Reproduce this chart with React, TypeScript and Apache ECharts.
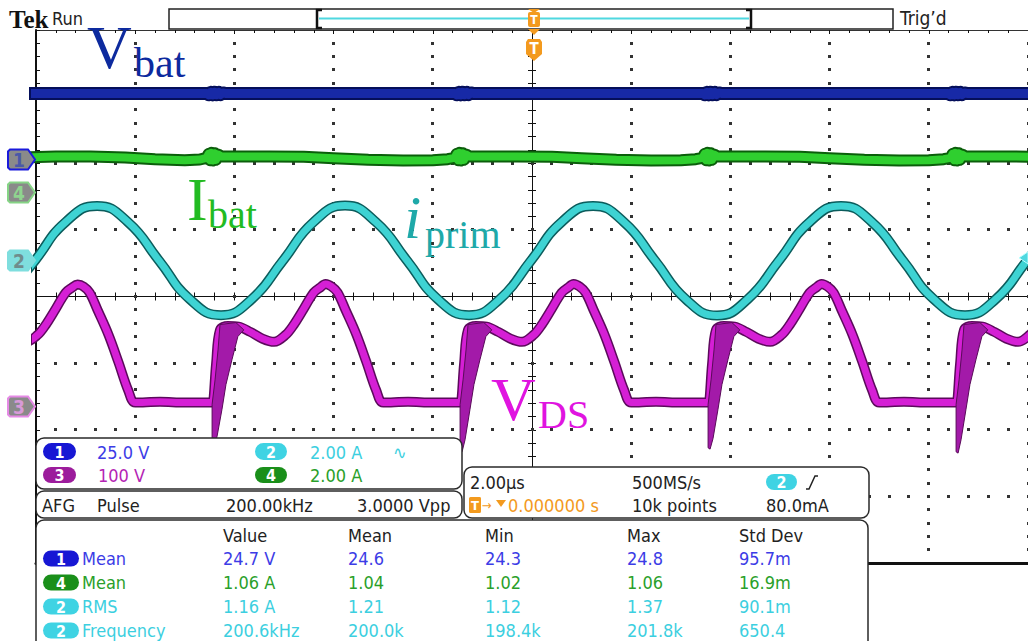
import React, { useEffect, useRef } from "react";
import * as echarts from "echarts";

// ---- Scope settings ----
const TIME_PER_DIV = 2; // µs / div
const X_MIN = -10; // µs, trigger at centre
const X_MAX = 10;
const Y_MIN = -4; // divisions
const Y_MAX = 4;
const MINOR_PER_DIV = 5;

const CH1_SCALE = 25; // V/div   (Vbat)
const CH2_SCALE = 2; // A/div    (iprim)
const CH3_SCALE = 100; // V/div  (VDS)
const CH4_SCALE = 2; // A/div    (Ibat)
const CH1_POS = 2.056; // trace zero position, divisions
const CH2_POS = 0.54;
const CH3_POS = -1.651;
const CH4_POS = 1.561;
const TRIG_LEVEL = 0.08; // A on ch2

// ---- Waveforms: [time µs, value] ----
const vbatPoints: number[][] = [
  [-10.3, 24.76], [-9.5, 24.74], [-9.0, 24.78], [-8.5, 24.75], [-8.0, 24.73], [-7.5, 24.77], [-7.0, 24.75], [-6.56, 24.76],
  [-6.52, 24.3], [-6.48, 25.2], [-6.44, 24.25], [-6.4, 25.25], [-6.36, 24.3], [-6.32, 25.2], [-6.28, 24.4], [-6.23, 25.0], [-6.16, 24.75],
  [-5.6, 24.77], [-5.0, 24.74], [-4.5, 24.76], [-4.0, 24.75], [-3.5, 24.78], [-3.0, 24.74], [-2.5, 24.76], [-2.0, 24.75], [-1.56, 24.76],
  [-1.52, 24.3], [-1.48, 25.2], [-1.44, 24.25], [-1.4, 25.25], [-1.36, 24.3], [-1.32, 25.2], [-1.28, 24.4], [-1.23, 25.0], [-1.16, 24.75],
  [-0.6, 24.76], [0.0, 24.74], [0.5, 24.77], [1.0, 24.75], [1.5, 24.76], [2.0, 24.74], [2.5, 24.77], [3.0, 24.75], [3.44, 24.76],
  [3.48, 24.3], [3.52, 25.2], [3.56, 24.25], [3.6, 25.25], [3.64, 24.3], [3.68, 25.2], [3.72, 24.4], [3.77, 25.0], [3.84, 24.75],
  [4.4, 24.77], [5.0, 24.74], [5.5, 24.76], [6.0, 24.75], [6.5, 24.78], [7.0, 24.74], [7.5, 24.76], [8.0, 24.75], [8.39, 24.76],
  [8.43, 24.3], [8.47, 25.2], [8.51, 24.25], [8.55, 25.25], [8.59, 24.3], [8.63, 25.2], [8.67, 24.4], [8.72, 25.0], [8.79, 24.75],
  [9.4, 24.76], [10.3, 24.75],
];

const ibatPoints: number[][] = [
  [-10.3, 1.05], [-9.6, 1.08], [-8.9, 1.08], [-8.2, 1.05], [-7.6, 1.0], [-7.0, 0.97], [-6.7, 0.99], [-6.56, 1.04],
  [-6.52, 1.16], [-6.49, 0.97], [-6.46, 1.19], [-6.43, 0.96], [-6.4, 1.18], [-6.37, 0.98], [-6.33, 1.14], [-6.26, 1.08],
  [-5.3, 1.08], [-4.6, 1.07], [-4.0, 1.03], [-3.3, 0.98], [-2.6, 0.96], [-2.0, 0.97], [-1.7, 1.0], [-1.56, 1.04],
  [-1.52, 1.16], [-1.49, 0.97], [-1.46, 1.19], [-1.43, 0.96], [-1.4, 1.18], [-1.37, 0.98], [-1.33, 1.14], [-1.26, 1.08],
  [-0.3, 1.08], [0.4, 1.07], [1.0, 1.03], [1.7, 0.98], [2.4, 0.96], [3.0, 0.97], [3.3, 1.0], [3.44, 1.04],
  [3.48, 1.16], [3.51, 0.97], [3.54, 1.19], [3.57, 0.96], [3.6, 1.18], [3.63, 0.98], [3.67, 1.14], [3.74, 1.08],
  [4.7, 1.08], [5.4, 1.07], [6.0, 1.03], [6.7, 0.98], [7.4, 0.96], [8.0, 0.97], [8.3, 1.0], [8.44, 1.04],
  [8.48, 1.16], [8.51, 0.97], [8.54, 1.19], [8.57, 0.96], [8.6, 1.18], [8.63, 0.98], [8.67, 1.14], [8.74, 1.08],
  [9.6, 1.08], [10.3, 1.07],
];

const iprimPoints: number[][] = [
  [-10.64, -1.16], [-10.02, 0], [-9.4, 1.16], [-8.77, 1.64], [-8.15, 1.16], [-7.52, 0], [-6.9, -1.16], [-6.27, -1.64],
  [-5.65, -1.16], [-5.02, 0], [-4.4, 1.16], [-3.77, 1.65], [-3.15, 1.16], [-2.52, 0], [-1.9, -1.16], [-1.27, -1.64],
  [-0.65, -1.16], [-0.02, 0], [0.6, 1.16], [1.23, 1.64], [1.85, 1.16], [2.48, 0], [3.1, -1.16], [3.73, -1.65],
  [4.35, -1.16], [4.98, 0], [5.6, 1.16], [6.23, 1.64], [6.85, 1.16], [7.48, 0], [8.1, -1.16], [8.73, -1.64],
  [9.35, -1.16], [9.98, 0], [10.6, 1.16],
];

const vdsPoints: number[][] = [
  [-10.44, 102], [-10.2, 97], [-9.96, 108], [-9.8, 123], [-9.64, 142], [-9.4, 171], [-9.28, 178], [-9.16, 183],
  [-9.04, 180], [-8.92, 171], [-8.76, 145], [-8.54, 108], [-8.34, 67], [-8.14, 24], [-8.0, 6], [-7.5, 7], [-7.0, 6], [-6.46, 6],
  [-6.44, 6], [-6.37, 63], [-6.29, 115], [-6.13, 121], [-5.92, 120], [-5.68, 112], [-5.44, 102], [-5.2, 97],
  [-4.96, 108], [-4.8, 123], [-4.64, 142], [-4.4, 171], [-4.28, 178], [-4.16, 184], [-4.04, 180], [-3.92, 171],
  [-3.76, 145], [-3.54, 108], [-3.34, 67], [-3.14, 24], [-3.0, 6], [-2.5, 7], [-2.0, 6], [-1.46, 6],
  [-1.44, 6], [-1.37, 63], [-1.29, 115], [-1.13, 121], [-0.92, 120], [-0.68, 112], [-0.44, 102], [-0.2, 97],
  [0.04, 108], [0.2, 123], [0.36, 142], [0.6, 171], [0.72, 178], [0.84, 184], [0.96, 180], [1.08, 171],
  [1.24, 145], [1.46, 108], [1.66, 67], [1.86, 24], [2.0, 6], [2.5, 7], [3.0, 6], [3.54, 6],
  [3.56, 6], [3.63, 63], [3.71, 115], [3.87, 121], [4.08, 120], [4.32, 112], [4.56, 102], [4.8, 97],
  [5.04, 108], [5.2, 123], [5.36, 142], [5.6, 171], [5.72, 178], [5.84, 184], [5.96, 180], [6.08, 171],
  [6.24, 145], [6.46, 108], [6.66, 67], [6.86, 24], [7.0, 6], [7.5, 7], [8.0, 6], [8.54, 6],
  [8.56, 6], [8.63, 63], [8.71, 115], [8.87, 121], [9.08, 120], [9.32, 112], [9.56, 102], [9.8, 97],
  [10.04, 108], [10.2, 123],
];

// turn-off ringing envelopes of VDS (persisted sweeps), [time µs, V]
const vdsRinging1: number[][] = [
  [-6.45, -58], [-6.45, 3], [-6.39, 40], [-6.33, 85], [-6.29, 123], [-5.97, 126], [-5.81, 115],
  [-5.93, 105], [-6.05, 70], [-6.17, 33], [-6.25, -4], [-6.35, -45], [-6.41, -61],
];
const vdsRinging2: number[][] = [
  [-1.45, -66], [-1.45, 3], [-1.39, 40], [-1.33, 85], [-1.29, 123], [-0.97, 126], [-0.81, 115],
  [-0.93, 105], [-1.05, 70], [-1.17, 33], [-1.25, -4], [-1.35, -50], [-1.41, -68],
];
const vdsRinging3: number[][] = [
  [3.55, -62], [3.55, 3], [3.61, 40], [3.67, 85], [3.71, 123], [4.03, 126], [4.19, 115],
  [4.07, 105], [3.95, 70], [3.83, 33], [3.75, -4], [3.65, -48], [3.59, -64],
];
const vdsRinging4: number[][] = [
  [8.55, -68], [8.55, 3], [8.61, 40], [8.67, 85], [8.71, 123], [9.03, 126], [9.19, 115],
  [9.07, 105], [8.95, 70], [8.83, 33], [8.75, -4], [8.65, -50], [8.59, -70],
];
const vdsRinging = [vdsRinging1, vdsRinging2, vdsRinging3, vdsRinging4];

// ---- Readouts ----
const chScaleLabels = ["25.0 V", "2.00 A", "100 V", "2.00 A"];
const afgFields = ["AFG", "Pulse", "200.00kHz", "3.0000 Vpp"];
const timebaseRow1 = ["2.00µs", "500MS/s"];
const timebaseRow2 = ["0.000000 s", "10k points", "80.0mA"];
const measHeaders = ["Value", "Mean", "Min", "Max", "Std Dev"];
const measChannels = ["1", "4", "2", "2"];
const measNames = ["Mean", "Mean", "RMS", "Frequency"];
const measRow1 = ["24.7 V", "24.6", "24.3", "24.8", "95.7m"];
const measRow2 = ["1.06 A", "1.04", "1.02", "1.06", "16.9m"];
const measRow3 = ["1.16 A", "1.21", "1.12", "1.37", "90.1m"];
const measRow4 = ["200.6kHz", "200.0k", "198.4k", "201.8k", "650.4"];
const measRows = [measRow1, measRow2, measRow3, measRow4];

// ---- Styling ----
const SANS = '"DejaVu Sans Condensed", "Noto Sans", "DejaVu Sans", sans-serif';
const SERIF = '"Liberation Serif", "Times New Roman", serif';
const BLUE = "#3c3ce6";
const BLUE_PILL = "#1717d4";
const CYAN = "#3ccfe0";
const CYAN_PILL = "#3fd3e3";
const PURPLE = "#b424b4";
const PURPLE_PILL = "#9c1c9c";
const GREEN = "#2a9f2a";
const GREEN_PILL = "#1a8f1a";
const ORANGE = "#f39a1e";
const INK = "#222";
const DOT = "#333333";
const DOT_SIZE = 3;

const toDiv = (pts: number[][], scale: number, pos: number) => pts.map(([t, v]) => [t, v / scale + pos]);

function lineSeries(data: number[][], color: string, width: number, smooth: number | boolean, z: number) {
  return {
    type: "line",
    data,
    xAxisIndex: 0,
    yAxisIndex: 0,
    showSymbol: false,
    symbol: "none",
    smooth,
    clip: true,
    silent: true,
    z,
    lineStyle: { color, width, join: "round", cap: "butt" },
  };
}

function txt(t: string, x: number, y: number, fill: string, size = 18, family = SANS, extra: any = {}) {
  return {
    type: "text",
    x,
    y,
    z: 60,
    silent: true,
    style: { text: t, fill, fontSize: size, fontFamily: family, align: "left", verticalAlign: "middle", ...extra },
  };
}

function pill(x: number, y: number, w: number, h: number, fill: string, label: string) {
  return [
    { type: "rect", z: 60, silent: true, shape: { x, y, width: w, height: h, r: h / 2 }, style: { fill } },
    {
      type: "text",
      z: 61,
      silent: true,
      x: x + w / 2,
      y: y + h / 2 + 0.5,
      style: { text: label, fill: "#fff", fontSize: 16, fontFamily: SANS, fontWeight: "bold", align: "center", verticalAlign: "middle" },
    },
  ];
}

function panel(x: number, y: number, w: number, h: number) {
  return { type: "rect", z: 55, silent: true, shape: { x, y, width: w, height: h, r: 8 }, style: { fill: "#fff", stroke: "#2a2a2a", lineWidth: 1.5 } };
}

function marker(y: number, fill: string, stroke: string, label: string, labelColor: string) {
  return [
    {
      type: "polygon",
      z: 60,
      silent: true,
      shape: { points: [[10, y - 10], [28, y - 10], [35, y], [28, y + 10], [10, y + 10], [8, y + 8], [8, y - 8]] },
      style: { fill, stroke, lineWidth: 2 },
    },
    {
      type: "text",
      z: 61,
      silent: true,
      x: 19,
      y: y + 0.5,
      style: { text: label, fill: labelColor, fontSize: 19, fontFamily: SANS, fontWeight: "bold", align: "center", verticalAlign: "middle" },
    },
  ];
}

// Graticule dots along the major division lines (one dot per minor division)
function graticuleDots(toPx: (p: number[]) => number[]) {
  const out: any[] = [];
  const h = DOT_SIZE / 2;
  const dot = (p: number[]) =>
    out.push({ type: "rect", z: 1, silent: true, shape: { x: Math.round(p[0] - h), y: Math.round(p[1] - h), width: DOT_SIZE, height: DOT_SIZE }, style: { fill: DOT } });
  const nx = (X_MAX - X_MIN) / TIME_PER_DIV;
  for (let k = 1; k <= nx; k++) {
    const x = X_MIN + k * TIME_PER_DIV;
    if (x === 0) continue;
    for (let j = Y_MIN * MINOR_PER_DIV + 1; j < Y_MAX * MINOR_PER_DIV; j++) dot(toPx([x, j / MINOR_PER_DIV]));
  }
  for (let r = Y_MIN + 1; r < Y_MAX; r++) {
    if (r === 0) continue;
    for (let j = 1; j < nx * MINOR_PER_DIV; j++) dot(toPx([X_MIN + (j * TIME_PER_DIV) / MINOR_PER_DIV, r]));
  }
  return out;
}

function buildGraphics(yOf: (d: number) => number, toPx: (p: number[]) => number[]) {
  const g: any[] = [{ type: "group", z: 1, silent: true, children: graticuleDots(toPx) }];
  // Top bar
  g.push(txt("Tek", 9, 19, "#111", 25, SERIF, { fontWeight: "bold" }));
  g.push(txt("Run", 52, 18, INK, 18));
  g.push({ type: "rect", z: 58, silent: true, shape: { x: 169, y: 9, width: 724, height: 20 }, style: { fill: "#fff", stroke: INK, lineWidth: 1.5 } });
  g.push({ type: "polyline", z: 59, silent: true, shape: { points: [[322, 10], [317, 10], [317, 28], [322, 28]] }, style: { stroke: "#111", lineWidth: 2.5, fill: null } });
  g.push({ type: "polyline", z: 59, silent: true, shape: { points: [[746, 10], [751, 10], [751, 28], [746, 28]] }, style: { stroke: "#111", lineWidth: 2.5, fill: null } });
  g.push({ type: "line", z: 59, silent: true, shape: { x1: 319, y1: 18.5, x2: 749, y2: 18.5 }, style: { stroke: "#4fd8e0", lineWidth: 2 } });
  g.push({ type: "polygon", z: 60, silent: true, shape: { points: [[528, 9], [540, 9], [534, 13]] }, style: { fill: ORANGE } });
  g.push({ type: "rect", z: 60, silent: true, shape: { x: 528, y: 12, width: 12, height: 15, r: 2 }, style: { fill: ORANGE } });
  g.push({ type: "text", z: 61, silent: true, x: 534, y: 19.5, style: { text: "T", fill: "#fff", fontSize: 12, fontFamily: SANS, fontWeight: "bold", align: "center", verticalAlign: "middle" } });
  g.push({ type: "polygon", z: 60, silent: true, shape: { points: [[528, 29], [540, 29], [534, 35]] }, style: { fill: ORANGE } });
  g.push({ type: "polygon", z: 60, silent: true, shape: { points: [[526, 42], [528, 39], [540, 39], [542, 42], [542, 54], [534, 61], [526, 54]] }, style: { fill: ORANGE } });
  g.push({ type: "text", z: 61, silent: true, x: 534, y: 49, style: { text: "T", fill: "#fff", fontSize: 15, fontFamily: SANS, fontWeight: "bold", align: "center", verticalAlign: "middle" } });
  g.push(txt("Trig’d", 900, 18, INK, 19));

  // Channel markers on the left edge
  g.push(...marker(yOf(CH1_POS), "#8a8a8a", "#1a1adc", "1", "#4a58a8"));
  g.push(...marker(yOf(CH4_POS), "#8a8a8a", "#86d486", "4", "#8fd48f"));
  g.push(...marker(yOf(CH2_POS), "#7fdede", "#7fdede", "2", "#6f8c8c"));
  g.push(...marker(yOf(CH3_POS), "#8a8a8a", "#e58ae5", "3", "#d89ad8"));
  // Trigger level marker on the right edge
  const ty = yOf(CH2_POS + TRIG_LEVEL / CH2_SCALE);
  g.push({ type: "polygon", z: 60, silent: true, shape: { points: [[1019, ty], [1028, ty - 6], [1028, ty + 6]] }, style: { fill: "#4fd8e0", stroke: "#bff", lineWidth: 1 } });

  // Trace labels
  g.push(txt("V", 87, 47, "#0d2a9e", 62, SERIF));
  g.push(txt("bat", 134, 63, "#0d2a9e", 42, SERIF));
  g.push(txt("I", 187, 199, "#22bb22", 62, SERIF));
  g.push(txt("bat", 208, 214, "#22bb22", 40, SERIF));
  g.push(txt("i", 404, 217, "#1fa9a9", 62, SERIF, { fontStyle: "italic" }));
  g.push(txt("prim", 425, 234, "#1fa9a9", 40, SERIF));
  g.push(txt("V", 491, 399, "#e014e0", 62, SERIF));
  g.push(txt("DS", 538, 414, "#e014e0", 40, SERIF));

  // Panel 1: channel scales
  g.push(panel(36, 438, 426, 51));
  g.push(...pill(43, 443, 33, 17, BLUE_PILL, "1"));
  g.push(txt(chScaleLabels[0], 97, 452, BLUE));
  g.push(...pill(255, 443, 32, 17, CYAN_PILL, "2"));
  g.push(txt(chScaleLabels[1], 310, 452, CYAN));
  g.push(txt("∿", 393, 452, CYAN));
  g.push(...pill(43, 467, 33, 16, PURPLE_PILL, "3"));
  g.push(txt(chScaleLabels[2], 98, 475, PURPLE));
  g.push(...pill(255, 467, 32, 16, GREEN_PILL, "4"));
  g.push(txt(chScaleLabels[3], 310, 475, GREEN));

  // Panel 2: AFG
  g.push(panel(36, 491, 426, 27));
  const afgX = [42, 97, 226, 357];
  afgFields.forEach((f, i) => g.push(txt(f, afgX[i], 505, INK)));

  // Panel 3: timebase / trigger
  g.push(panel(464, 467, 405, 51));
  g.push(txt(timebaseRow1[0], 470, 482, INK));
  g.push(txt(timebaseRow1[1], 632, 482, INK));
  g.push(...pill(766, 474, 31, 16, CYAN_PILL, "2"));
  g.push({ type: "polyline", z: 60, silent: true, shape: { points: [[806, 489], [809, 489], [815, 476], [818, 476]] }, style: { stroke: INK, lineWidth: 1.5, fill: null } });
  g.push({ type: "rect", z: 60, silent: true, shape: { x: 469, y: 497, width: 12, height: 16, r: 1.5 }, style: { fill: ORANGE } });
  g.push({ type: "text", z: 61, silent: true, x: 475, y: 505.5, style: { text: "T", fill: "#fff", fontSize: 13, fontFamily: SANS, fontWeight: "bold", align: "center", verticalAlign: "middle" } });
  g.push(txt("→", 482, 505, ORANGE, 13));
  g.push({ type: "polygon", z: 60, silent: true, shape: { points: [[496, 500], [506, 500], [501, 507]] }, style: { fill: ORANGE } });
  g.push(txt(timebaseRow2[0], 508, 505, ORANGE));
  g.push(txt(timebaseRow2[1], 632, 505, INK));
  g.push(txt(timebaseRow2[2], 766, 505, INK));

  // Panel 4: measurements
  g.push(panel(36, 520, 832, 135));
  const colX = [223, 348, 485, 627, 739];
  measHeaders.forEach((h, i) => g.push(txt(h, colX[i], 535, INK)));
  const rowY = [558.5, 582.5, 606.5, 630.5];
  const rowColor = [BLUE, GREEN, CYAN, CYAN];
  const pillColor = [BLUE_PILL, GREEN_PILL, CYAN_PILL, CYAN_PILL];
  measRows.forEach((row, r) => {
    g.push(...pill(43, rowY[r] - 8, 36, 16, pillColor[r], measChannels[r]));
    g.push(txt(measNames[r], 82, rowY[r], rowColor[r]));
    row.forEach((v, i) => g.push(txt(v, colX[i], rowY[r], rowColor[r])));
  });
  return g;
}

function buildOption() {
  const axisBase = { type: "value", min: X_MIN, max: X_MAX, interval: TIME_PER_DIV, axisLabel: { show: false }, splitLine: { show: false } };
  const yBase = { type: "value", min: Y_MIN, max: Y_MAX, interval: 1, axisLabel: { show: false }, splitLine: { show: false } };
  const tickStyle = { color: "#111", width: 1 };
  return {
    animation: false,
    backgroundColor: "#fff",
    grid: { left: 36, top: 30, width: 996, height: 533, show: false },
    xAxis: [
      {
        ...axisBase,
        position: "bottom",
        axisLine: { show: true, onZero: true, lineStyle: { color: "#111", width: 1 } },
        axisTick: { show: true, inside: true, length: 4, lineStyle: tickStyle },
        minorTick: { show: true, splitNumber: MINOR_PER_DIV, length: 4, lineStyle: tickStyle },
      },
      {
        ...axisBase,
        position: "top",
        axisLine: { show: false, onZero: true },
        axisTick: { show: true, inside: true, length: 4, lineStyle: tickStyle },
        minorTick: { show: true, splitNumber: MINOR_PER_DIV, length: 4, lineStyle: tickStyle },
      },
      {
        ...axisBase,
        position: "top",
        axisLine: { show: true, onZero: false, lineStyle: { color: "#333", width: 1 } },
        axisTick: { show: true, inside: true, length: 4, lineStyle: tickStyle },
        minorTick: { show: true, splitNumber: MINOR_PER_DIV, length: 3, lineStyle: tickStyle },
      },
      {
        ...axisBase,
        position: "bottom",
        axisLine: { show: true, onZero: false, lineStyle: { color: "#111", width: 3 } },
        axisTick: { show: false },
      },
    ],
    yAxis: [
      {
        ...yBase,
        position: "left",
        axisLine: { show: true, onZero: true, lineStyle: { color: "#111", width: 1 } },
        axisTick: { show: true, inside: true, length: 4, lineStyle: tickStyle },
        minorTick: { show: true, splitNumber: MINOR_PER_DIV, length: 4, lineStyle: tickStyle },
      },
      {
        ...yBase,
        position: "right",
        axisLine: { show: false, onZero: true },
        axisTick: { show: true, inside: true, length: 4, lineStyle: tickStyle },
        minorTick: { show: true, splitNumber: MINOR_PER_DIV, length: 4, lineStyle: tickStyle },
      },
      {
        ...yBase,
        position: "left",
        axisLine: { show: true, onZero: false, lineStyle: { color: "#111", width: 2 } },
        axisTick: { show: true, inside: true, length: 4, lineStyle: tickStyle },
        minorTick: { show: true, splitNumber: MINOR_PER_DIV, length: 4, lineStyle: tickStyle },
      },
    ],
    series: [
      lineSeries(toDiv(vbatPoints, CH1_SCALE, CH1_POS), "#050f5a", 13, false, 2),
      lineSeries(toDiv(vbatPoints, CH1_SCALE, CH1_POS), "#1729a6", 9, false, 2),
      lineSeries(toDiv(ibatPoints, CH4_SCALE, CH4_POS), "#0b5e0b", 12, false, 2),
      lineSeries(toDiv(ibatPoints, CH4_SCALE, CH4_POS), "#2fcf2f", 8, false, 2),
      lineSeries(toDiv(vdsPoints, CH3_SCALE, CH3_POS), "#5c0a5c", 10, 0.35, 3),
      lineSeries(toDiv(vdsPoints, CH3_SCALE, CH3_POS), "#d51fd5", 7, 0.35, 3),
      {
        type: "custom",
        coordinateSystem: "cartesian2d",
        xAxisIndex: 0,
        yAxisIndex: 0,
        clip: true,
        silent: true,
        z: 4,
        data: vdsRinging.map((p) => [p[0][0], p[0][1] / CH3_SCALE + CH3_POS]),
        renderItem: (params: any, api: any) => {
          const poly = vdsRinging[params.dataIndex];
          return {
            type: "polygon",
            shape: { points: poly.map(([t, v]) => api.coord([t, v / CH3_SCALE + CH3_POS])) },
            style: { fill: "#a31aa9", stroke: "#5a0a5a", lineWidth: 1 },
          };
        },
      },
      lineSeries(toDiv(iprimPoints, CH2_SCALE, CH2_POS), "#0b5c5c", 10, 0.5, 5),
      lineSeries(toDiv(iprimPoints, CH2_SCALE, CH2_POS), "#3ed3d3", 7, 0.5, 5),
    ],
  };
}

export default function App() {
  const ref = useRef<HTMLDivElement>(null);
  useEffect(() => {
    if (!ref.current) return;
    const chart = echarts.init(ref.current, null, { renderer: "svg" });
    chart.setOption(buildOption() as any);
    const yOf = (d: number) => chart.convertToPixel({ yAxisIndex: 0 }, d) as number;
    const toPx = (p: number[]) => [
      chart.convertToPixel({ xAxisIndex: 0 }, p[0]) as number,
      chart.convertToPixel({ yAxisIndex: 0 }, p[1]) as number,
    ];
    chart.setOption({ graphic: buildGraphics(yOf, toPx) } as any);
    return () => chart.dispose();
  }, []);
  return (
    <div
      ref={ref}
      style={{ position: "absolute", left: 0, top: 0, width: 1028, height: 641, background: "#fff" }}
    />
  );
}
